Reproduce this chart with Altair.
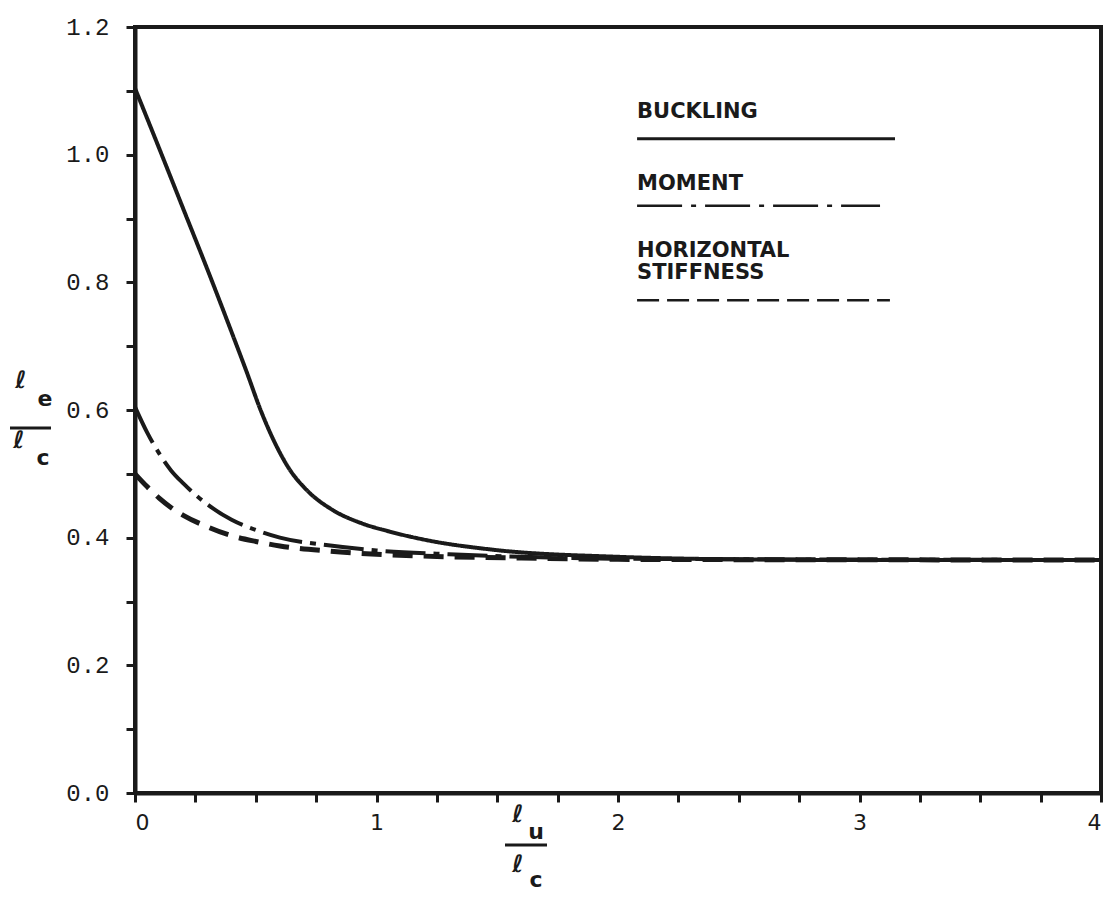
import altair as alt
import pandas as pd

# ---- data ----
buck_x = [0, 0.1, 0.2, 0.3, 0.4, 0.464, 0.52, 0.58, 0.64, 0.71, 0.82, 0.935, 1.05, 1.21, 1.485, 2.0, 2.5, 3.0, 4.0]
buck_y = [1.104, 1.01, 0.915, 0.82, 0.722, 0.658, 0.600, 0.548, 0.507, 0.475, 0.443, 0.423, 0.410, 0.396, 0.381, 0.370, 0.366, 0.365, 0.365]

mom_x = [0, 0.05, 0.1, 0.15, 0.2, 0.3, 0.4, 0.5, 0.6, 0.8, 1.0, 1.3, 1.6, 2.0, 4.0]
mom_y = [0.605, 0.565, 0.532, 0.505, 0.485, 0.452, 0.428, 0.412, 0.400, 0.388, 0.380, 0.374, 0.370, 0.367, 0.365]

stf_x = [0, 0.05, 0.1, 0.15, 0.2, 0.3, 0.4, 0.5, 0.6, 0.8, 1.0, 1.3, 1.6, 2.0, 4.0]
stf_y = [0.500, 0.480, 0.462, 0.447, 0.435, 0.417, 0.403, 0.394, 0.387, 0.379, 0.374, 0.370, 0.368, 0.366, 0.365]

y_ticks = [round(0.1 * i, 1) for i in range(13)]
x_ticks = [0.25 * i for i in range(17)]

legend_names = ["BUCKLING", "MOMENT", "HORIZONTAL", "STIFFNESS"]

W, H = 966, 766
xs = alt.Scale(domain=[0, 4], nice=False)
ys = alt.Scale(domain=[0, 1.2], nice=False)

x_axis = alt.Axis(values=x_ticks, title=None,
                  labelExpr="datum.value % 1 == 0 ? format(datum.value, 'd') : ''")
y_axis = alt.Axis(values=y_ticks, title=None,
                  labelExpr="round(datum.value*10) % 2 == 0 ? format(datum.value, '.1f') : ''")

def X(f="x:Q"):
    return alt.X(f, scale=xs, axis=x_axis)

def Y(f="y:Q"):
    return alt.Y(f, scale=ys, axis=y_axis)

def curve(xv, yv, dash, sw):
    df = pd.DataFrame({"x": xv, "y": yv})
    return alt.Chart(df).mark_line(
        color="#1a1a1a", strokeWidth=sw, strokeDash=dash, interpolate="monotone", clip=True
    ).encode(x=X(), y=Y())

buck = curve(buck_x, buck_y, [1, 0], 4)
mom = curve(mom_x, mom_y, [40, 8, 6, 8], 4)
stf = curve(stf_x, stf_y, [20, 11], 5)

# legend (in data units)
leg_lines = pd.DataFrame({
    "x": [2.079, 2.079, 2.079], "x2": [3.147, 3.085, 3.126],
    "y": [1.025, 0.920, 0.772], "k": ["b", "m", "s"]})

def leg_rule(k, dash, sw):
    return alt.Chart(leg_lines[leg_lines.k == k]).mark_rule(
        color="#1a1a1a", strokeWidth=sw, strokeDash=dash).encode(
        x=X(), x2="x2:Q", y=Y())

leg_text = pd.DataFrame({"x": [2.079] * 4, "y": [1.0575, 0.945, 0.840, 0.806], "t": legend_names})
ltext = alt.Chart(leg_text).mark_text(
    align="left", baseline="alphabetic", font="DejaVu Sans", fontSize=21,
    fontWeight="bold", color="#1a1a1a").encode(x=X(), y=Y(), text="t:N")

# axis titles drawn as fractions
def txt(s, px, py, size=24):
    return alt.Chart(pd.DataFrame({"t": [s]})).mark_text(
        font="DejaVu Sans", fontSize=size, fontWeight="bold", color="#1a1a1a",
        align="center", baseline="middle").encode(
        x=alt.value(px), y=alt.value(py), text="t:N")

def bar(x1, x2, py):
    return alt.Chart(pd.DataFrame({"a": [0]})).mark_rule(color="#1a1a1a", strokeWidth=3).encode(
        x=alt.value(x1), x2=alt.value(x2), y=alt.value(py))

titles = [
    txt("ℓ", 383, 788), txt("u", 401, 805, 22), bar(370, 412, 818), txt("ℓ", 383, 838), txt("c", 401, 853, 22),
    txt("ℓ", -114, 354), txt("e", -90, 372, 22), bar(-125, -84, 401), txt("ℓ", -116, 414), txt("c", -92, 431, 22),
]

chart = alt.layer(
    buck, mom, stf,
    leg_rule("b", [1, 0], 3), leg_rule("m", [45, 9, 5, 9], 2.5), leg_rule("s", [22, 8], 2.5),
    ltext, *titles
).properties(
    width=W, height=H,
    padding={"left": 127, "top": 19, "right": 3, "bottom": 100},
    autosize="none",
    background="white",
).configure_view(
    stroke="#1a1a1a", strokeWidth=4
).configure_axis(
    grid=False, domainColor="#1a1a1a", domainWidth=4,
    tickColor="#1a1a1a", tickWidth=3, tickSize=9, labelColor="#1a1a1a",
).configure_axisX(
    labelFont="DejaVu Sans", labelFontSize=22, labelPadding=10,
).configure_axisY(
    labelFont="Liberation Mono", labelFontSize=24, labelPadding=17,
)

chart.save("out.html", embed_options={"renderer": "svg", "actions": False})
